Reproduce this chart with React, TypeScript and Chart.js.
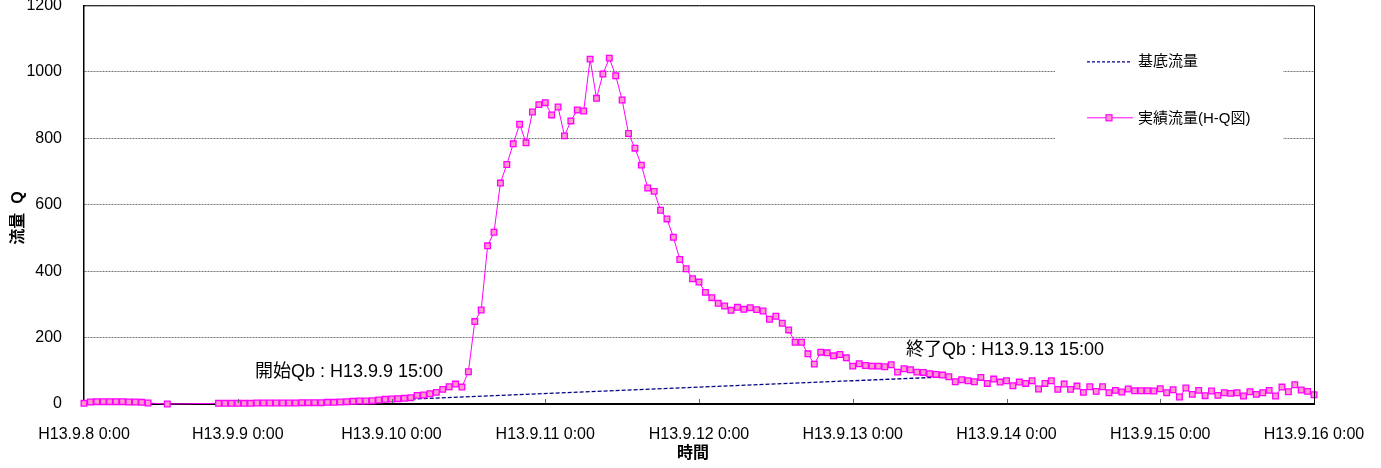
import React, { useEffect, useRef } from 'react';
import { Chart, registerables } from 'chart.js';

Chart.register(...registerables);

// ---- data ----
// hourly observed flow from H13.9.8 0:00 (hour 0) to H13.9.16 0:00 (hour 192)
const flowValues: (number | null)[] = [
  // h0-h20
  2, 6, 7, 7, 7, 7, 7, 6, 6, 5, 3, null, null, 0, null, null, null, null, null, null, null,
  // h21-h39
  2, 2, 2, 2, 2, 2, 3, 3, 3, 3, 3, 3, 3, 4, 4, 4, 4, 5, 5,
  // h40-h59
  6, 7, 8, 9, 9, 10, 12, 14, 15, 16, 17, 19, 26, 27, 31, 35, 44, 52, 60, 51,
  // h60-h79
  97, 248, 283, 476, 517, 665, 721, 783, 842, 786, 879, 901, 907, 870, 894, 807, 852, 885, 882, 1038,
  // h80-h99
  920, 993, 1041, 988, 915, 814, 770, 719, 650, 640, 583, 557, 502, 435, 407, 377, 367, 336, 320, 303,
  // h100-h119
  295, 282, 291, 285, 290, 284, 280, 255, 264, 243, 223, 186, 186, 151, 120, 156, 154, 145, 149, 139,
  // h120-h139
  114, 121, 116, 114, 114, 112, 118, 96, 106, 103, 96, 95, 91, 89, 87, 82, 67, 73, 70, 67,
  // h140-h159
  80, 62, 75, 66, 70, 55, 66, 62, 70, 45, 62, 70, 44, 60, 44, 54, 35, 52, 38, 52,
  // h160-h179
  34, 41, 36, 45, 40, 40, 40, 39, 46, 34, 43, 21, 48, 29, 41, 25, 39, 26, 34, 32,
  // h180-h192
  34, 24, 37, 29, 34, 41, 24, 51, 37, 58, 42, 38, 28,
];

// base flow: straight line from start Qb (H13.9.9 15:00) to end Qb (H13.9.13 15:00)
const baseHours = [39, 135];
const baseValues = [5, 82];

const xTickLabels = [
  'H13.9.8 0:00', 'H13.9.9 0:00', 'H13.9.10 0:00', 'H13.9.11 0:00', 'H13.9.12 0:00',
  'H13.9.13 0:00', 'H13.9.14 0:00', 'H13.9.15 0:00', 'H13.9.16 0:00',
];

const seriesNames = ['基底流量', '実績流量(H-Q図)'];
const startLabel = '開始Qb : H13.9.9 15:00';
const endLabel = '終了Qb : H13.9.13 15:00';
const xTitle = '時間';
const yTitle = '流量  Q';

const LATIN = "'Liberation Sans', 'Noto Sans CJK JP', sans-serif";
const PINK = '#FF00FF';
const PINK_FILL = '#FF99CC';
const NAVY = '#000080';

const overlayPlugin = {
  id: 'overlay',
  afterDatasetsDraw(chart: any) {
    const { ctx, chartArea: a } = chart;
    const xs = chart.scales.x;
    ctx.save();
    // frame top and right
    ctx.strokeStyle = '#000';
    ctx.lineWidth = 1;
    ctx.beginPath();
    ctx.moveTo(a.left, a.top + 0.5);
    ctx.lineTo(a.right + 0.5, a.top + 0.5);
    ctx.lineTo(a.right + 0.5, a.bottom);
    ctx.stroke();
    // inner tick marks on x axis
    ctx.strokeStyle = '#666';
    ctx.beginPath();
    for (let i = 1; i < xTickLabels.length - 1; i++) {
      const px = Math.round(xs.getPixelForValue(i * 24)) + 0.5;
      ctx.moveTo(px, a.bottom - 1);
      ctx.lineTo(px, a.bottom - 5);
    }
    ctx.stroke();

    // legend box
    ctx.fillStyle = '#fff';
    ctx.fillRect(a.left + 971, a.top + 25, 228, 135);
    ctx.font = `15px ${LATIN}`;
    ctx.fillStyle = '#000';
    ctx.textBaseline = 'middle';
    ctx.textAlign = 'left';
    // base flow
    ctx.strokeStyle = NAVY;
    ctx.lineWidth = 1.2;
    ctx.setLineDash([3, 2]);
    ctx.beginPath();
    ctx.moveTo(a.left + 1003, a.top + 56.5);
    ctx.lineTo(a.left + 1047, a.top + 56.5);
    ctx.stroke();
    ctx.setLineDash([]);
    ctx.fillText(seriesNames[0], a.left + 1054, a.top + 57);
    // observed flow
    ctx.strokeStyle = PINK;
    ctx.lineWidth = 1;
    ctx.beginPath();
    ctx.moveTo(a.left + 1003, a.top + 112.5);
    ctx.lineTo(a.left + 1049, a.top + 112.5);
    ctx.stroke();
    ctx.fillStyle = PINK_FILL;
    ctx.fillRect(a.left + 1022, a.top + 109.5, 6, 6);
    ctx.strokeStyle = PINK;
    ctx.lineWidth = 1.2;
    ctx.strokeRect(a.left + 1022, a.top + 109.5, 6, 6);
    ctx.fillStyle = '#000';
    ctx.fillText(seriesNames[1], a.left + 1054, a.top + 114);

    // annotations
    ctx.font = `18px ${LATIN}`;
    ctx.fillText(startLabel, 255, 372);
    ctx.fillText(endLabel, 906, 350);

    // axis titles
    ctx.font = `bold 16px ${LATIN}`;
    ctx.textAlign = 'center';
    ctx.fillText(xTitle, 693, 454);
    ctx.save();
    ctx.translate(19, 218);
    ctx.rotate(-Math.PI / 2);
    ctx.fillText(yTitle, 0, 0);
    ctx.restore();
    ctx.restore();
  },
};

export default function App() {
  const ref = useRef<HTMLCanvasElement | null>(null);
  useEffect(() => {
    if (!ref.current) return;
    const flowData = flowValues.map((v, i) => ({ x: i, y: v }));
    const baseData = baseHours.map((h, i) => ({ x: h, y: baseValues[i] }));
    const chart = new Chart(ref.current, {
      type: 'line',
      data: {
        datasets: [
          {
            label: seriesNames[1],
            data: flowData as any,
            borderColor: PINK,
            borderWidth: 1,
            pointStyle: 'rect',
            pointRadius: 4,
            pointBackgroundColor: PINK_FILL,
            pointBorderColor: PINK,
            pointBorderWidth: 1.3,
            spanGaps: true,
            clip: 10,
            order: 1,
          },
          {
            label: seriesNames[0],
            data: baseData as any,
            borderColor: NAVY,
            borderWidth: 1.3,
            borderDash: [4, 2],
            pointRadius: 0,
            order: 2,
          },
        ],
      },
      options: {
        responsive: false,
        animation: false,
        devicePixelRatio: 1,
        layout: { padding: { top: 5, right: 67, left: 0, bottom: 0 } },
        plugins: { legend: { display: false }, tooltip: { enabled: false } },
        scales: {
          x: {
            type: 'linear',
            min: 0,
            max: 192,
            afterFit: (s: any) => {
              s.height = 64;
              s.paddingLeft = 0;
              s.paddingRight = 0;
            },
            afterBuildTicks: (s: any) => {
              s.ticks = xTickLabels.map((_, i) => ({ value: i * 24 }));
            },
            ticks: {
              autoSkip: false,
              maxRotation: 0,
              padding: 21,
              color: '#000',
              font: { family: LATIN, size: 16 },
              callback: (v: any) => xTickLabels[Math.round(Number(v) / 24)] ?? '',
            },
            grid: { display: false, drawTicks: false },
            border: { display: true, color: '#000', width: 2 },
          },
          y: {
            min: 0,
            max: 1200,
            afterFit: (s: any) => {
              s.width = 84;
              s.paddingTop = 0;
              s.paddingBottom = 0;
            },
            ticks: {
              stepSize: 200,
              padding: 22,
              color: '#000',
              font: { family: LATIN, size: 16 },
              callback: (v: any) => String(v),
            },
            grid: { color: '#777', lineWidth: 1, drawTicks: false },
            border: { display: true, color: '#000', width: 1.5, dash: [2, 1] },
          },
        },
      },
      plugins: [overlayPlugin],
    });
    return () => chart.destroy();
  }, []);
  return (
    <div style={{ position: 'fixed', left: 0, top: 0, width: 1381, height: 468, background: '#fff' }}>
      <canvas ref={ref} width={1381} height={468} style={{ width: 1381, height: 468, display: 'block' }} />
    </div>
  );
}
